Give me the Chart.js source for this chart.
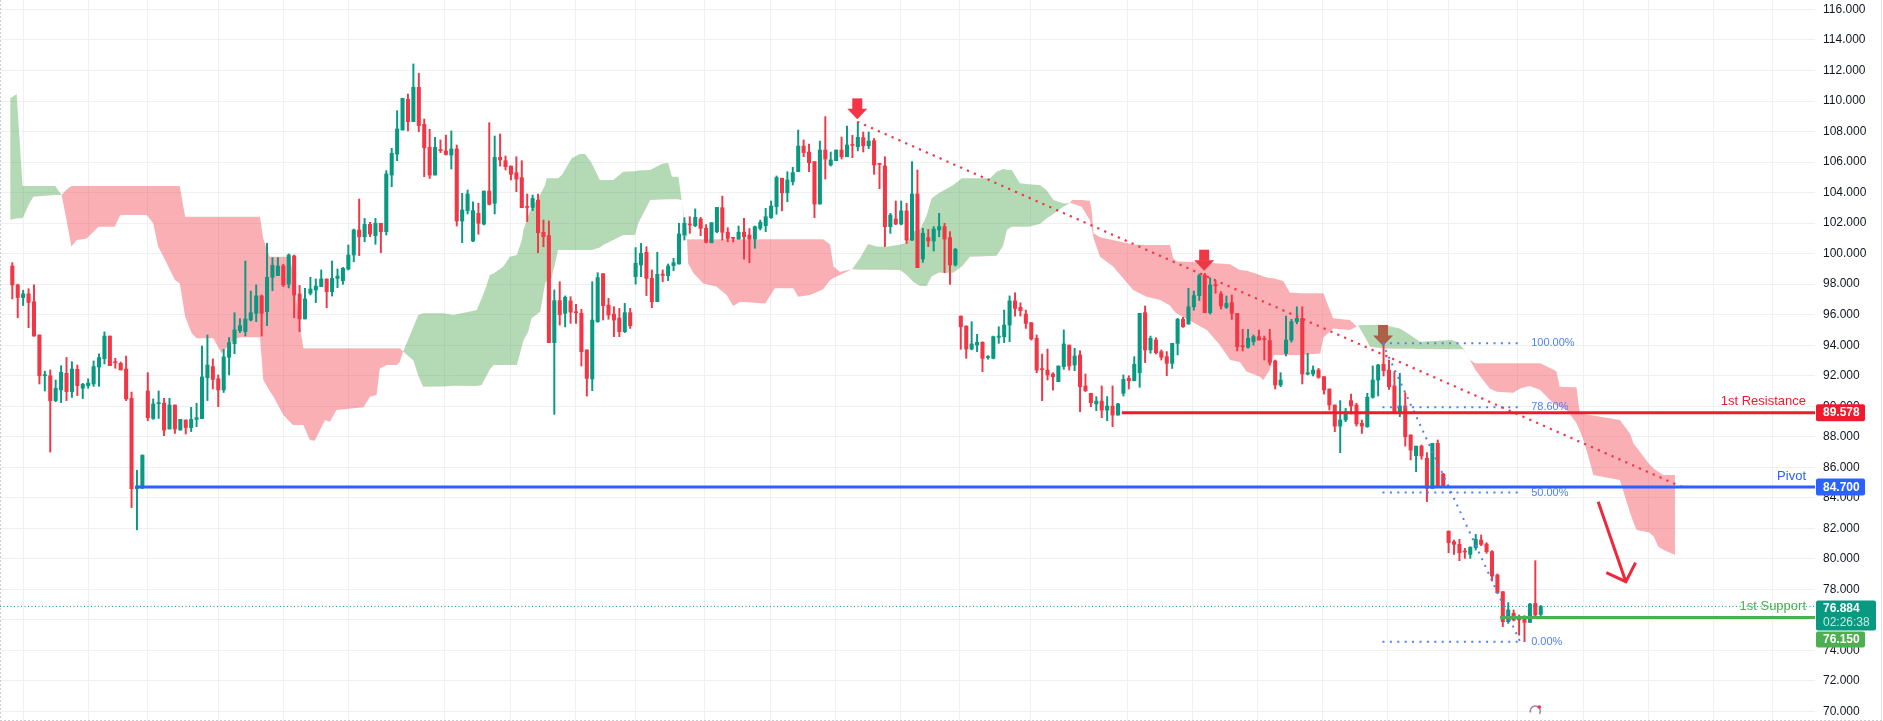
<!DOCTYPE html>
<html>
<head>
<meta charset="utf-8">
<script src="https://cdn.jsdelivr.net/npm/chart.js@4.4.1/dist/chart.umd.min.js"></script>
<style>
  html, body { margin: 0; padding: 0; background: #ffffff; }
  #wrap { width: 1883px; height: 721px; position: relative; }
</style>
</head>
<body>
<div id="wrap"><canvas id="priceChart" width="1883" height="721"></canvas></div>
<script>
// ---- candles (index 0..282) ----
const opens = [
  99.19, 97.95, 97.12, 97.36, 96.85, 94.67, 92.0, 92.0, 90.37, 91.07,
  92.16, 90.96, 92.42, 91.18, 91.35, 91.46, 92.57, 93.12, 94.6, 92.9,
  92.81, 92.44, 90.52, 84.6, 84.64, 91.0, 89.2, 90.17, 90.2, 88.51,
  90.08, 88.44, 89.1, 88.6, 89.14, 89.19, 91.87, 92.6, 91.8, 91.07,
  93.21, 94.1, 94.95, 94.89, 95.65, 96.09, 97.23, 96.2, 98.45, 98.56,
  99.19, 98.0, 99.85, 97.36, 95.72, 97.4, 97.62, 97.84, 98.34, 97.51,
  98.38, 98.23, 98.99, 99.91, 101.55, 101.11, 101.92, 101.18, 101.99, 101.44,
  105.15, 106.53, 108.1, 110.11, 108.65, 110.9, 108.47, 106.97, 105.15, 106.79,
  106.73, 106.46, 106.86, 102.14, 102.82, 100.83, 102.64, 101.94, 104.1, 103.3,
  106.31, 106.09, 105.74, 105.3, 104.98, 103.08, 103.03, 103.51, 101.4, 101.18,
  94.17, 96.92, 96.09, 96.9, 96.17, 96.09, 93.69, 91.79, 95.54, 98.69,
  96.63, 96.04, 95.78, 94.89, 96.13, 98.49, 99.26, 100.09, 98.38, 96.85,
  98.66, 98.56, 99.21, 99.32, 101.22, 101.92, 101.83, 102.27, 101.66, 100.72,
  101.44, 103.01, 101.4, 101.05, 100.96, 101.4, 101.22, 100.96, 101.66, 101.83,
  102.36, 103.08, 104.94, 103.99, 104.72, 105.37, 107.05, 106.66, 106.03, 103.25,
  106.79, 105.81, 106.09, 106.79, 106.35, 107.12, 107.01, 107.6, 107.07, 107.4,
  105.89, 105.74, 101.77, 102.27, 101.94, 102.8, 100.89, 103.91, 99.65, 101.05,
  100.83, 101.55, 101.77, 101.05, 99.26, 95.91, 95.26, 93.75, 94.01, 94.19,
  93.19, 93.14, 94.52, 94.56, 95.32, 96.9, 96.48, 96.04, 95.48, 94.45,
  92.42, 92.37, 92.11, 91.61, 92.6, 94.01, 92.7, 93.36, 91.33, 90.85,
  90.15, 90.34, 89.75, 90.01, 89.42, 90.85, 91.83, 91.67, 92.2, 96.13,
  93.69, 94.34, 93.58, 93.25, 92.81, 94.12, 95.7, 95.39, 96.52, 97.25,
  98.6, 96.13, 97.95, 97.36, 96.48, 96.79, 96.09, 93.95, 93.86, 94.23,
  94.56, 94.41, 94.3, 92.97, 91.39, 93.46, 94.34, 95.54, 95.76, 92.11,
  92.11, 92.37, 91.94, 91.13, 90.08, 88.7, 89.1, 90.37, 90.08, 88.88,
  88.66, 90.59, 91.72, 92.75, 92.37, 91.33, 89.64, 90.02, 88.12, 86.76,
  87.39, 86.59, 84.62, 87.57, 85.56, 81.82, 81.12, 80.95, 80.47, 80.29,
  80.73, 81.23, 80.97, 80.47, 78.94, 77.85, 75.88, 76.43, 76.03, 76.06,
  75.84, 77.08, 76.36
];
const highs = [
  99.41, 98.0, 97.6, 97.7, 97.95, 94.67, 92.3, 92.38, 91.72, 92.66,
  93.2, 92.92, 92.7, 91.5, 91.8, 92.97, 93.43, 94.87, 94.6, 93.14,
  92.9, 93.29, 90.93, 85.8, 86.8, 92.2, 90.48, 91.0, 90.52, 90.52,
  90.08, 89.14, 89.1, 89.93, 90.2, 93.95, 94.67, 93.1, 92.05, 93.73,
  94.5, 96.13, 95.74, 99.52, 97.55, 97.95, 97.29, 100.68, 99.74, 99.74,
  99.3, 99.98, 99.91, 97.92, 97.73, 98.45, 98.34, 98.93, 98.34, 99.52,
  99.0, 99.1, 100.57, 101.61, 103.58, 102.31, 102.05, 102.31, 101.99, 105.44,
  106.9, 109.37, 110.18, 110.46, 112.43, 111.82, 108.82, 108.15, 107.62, 107.45,
  107.77, 108.04, 107.12, 103.95, 104.17, 103.4, 103.3, 104.1, 108.58, 107.71,
  107.84, 106.4, 105.74, 106.35, 106.09, 103.91, 103.84, 103.9, 102.2, 102.14,
  97.62, 98.16, 97.23, 97.18, 96.68, 96.35, 93.69, 98.16, 98.75, 98.69,
  97.07, 96.52, 96.41, 96.74, 96.41, 100.4, 100.67, 100.45, 98.93, 100.09,
  98.93, 99.32, 99.69, 101.99, 102.36, 102.42, 102.93, 102.38, 101.9, 102.03,
  103.03, 103.77, 101.7, 101.05, 101.81, 102.31, 101.64, 101.81, 102.2, 102.97,
  103.45, 105.09, 104.94, 105.37, 105.66, 108.1, 107.45, 107.18, 106.03, 107.38,
  108.98, 106.66, 106.79, 107.64, 108.36, 107.75, 108.6, 107.97, 107.97, 107.55,
  105.89, 106.35, 102.64, 103.45, 103.45, 103.3, 106.03, 105.48, 101.66, 101.59,
  101.77, 102.64, 101.99, 101.44, 100.35, 95.91, 95.26, 95.54, 94.71, 94.23,
  93.32, 94.6, 95.21, 96.3, 97.23, 97.44, 96.78, 96.3, 95.48, 94.67,
  93.42, 93.75, 92.2, 92.64, 95.0, 94.01, 93.8, 93.64, 92.11, 90.85,
  90.63, 91.33, 90.63, 91.33, 90.19, 92.05, 92.0, 93.25, 96.09, 96.57,
  94.6, 94.49, 93.69, 93.58, 94.12, 95.76, 95.83, 97.73, 97.55, 98.67,
  98.71, 98.42, 98.23, 97.51, 97.22, 97.29, 96.09, 95.04, 95.04, 94.67,
  94.99, 94.6, 95.04, 93.03, 92.2, 95.91, 95.7, 96.52, 96.52, 93.47,
  92.64, 92.48, 91.94, 91.13, 90.08, 90.37, 89.86, 90.8, 90.19, 89.1,
  90.85, 92.64, 92.75, 94.12, 93.03, 92.27, 92.16, 90.89, 88.12, 87.39,
  87.46, 86.96, 87.57, 87.79, 85.6, 81.82, 81.23, 81.28, 80.69, 80.8,
  81.6, 81.56, 81.06, 80.54, 79.01, 77.85, 77.13, 76.65, 76.32, 76.28,
  77.08, 79.88, 76.95
];
const lows = [
  97.03, 95.8, 96.6, 95.15, 94.6, 91.46, 91.0, 87.0, 90.3, 90.24,
  90.37, 90.58, 90.7, 90.5, 91.18, 91.3, 91.3, 92.77, 92.66, 92.49,
  92.38, 90.37, 83.36, 81.9, 84.6, 89.06, 89.14, 89.2, 88.07, 88.5,
  88.22, 88.44, 88.18, 88.34, 88.66, 89.19, 90.37, 91.13, 89.97, 90.9,
  92.05, 93.44, 94.82, 94.6, 95.59, 95.54, 94.6, 95.28, 97.57, 98.56,
  97.84, 97.75, 95.8, 94.89, 95.72, 97.29, 96.79, 97.84, 96.46, 97.22,
  97.77, 97.99, 98.93, 99.47, 99.87, 100.78, 101.11, 100.61, 100.06, 101.22,
  104.39, 106.09, 108.1, 108.04, 108.65, 107.99, 105.04, 104.93, 105.15, 106.62,
  106.46, 105.55, 101.81, 100.72, 102.6, 100.78, 101.27, 101.88, 103.19, 102.6,
  105.74, 105.48, 104.83, 104.06, 103.01, 102.1, 102.82, 100.06, 100.45, 94.17,
  89.47, 95.32, 95.2, 95.43, 95.43, 92.64, 90.67, 91.02, 95.5, 95.65,
  95.7, 94.56, 94.56, 94.82, 95.1, 98.0, 98.49, 97.25, 96.46, 96.85,
  98.16, 98.23, 98.88, 99.32, 100.89, 101.33, 101.77, 101.18, 100.7, 100.7,
  101.37, 100.89, 100.78, 100.76, 100.94, 99.63, 99.41, 100.35, 101.55, 101.44,
  102.31, 102.58, 102.8, 103.4, 104.5, 105.37, 106.35, 105.37, 102.36, 103.25,
  104.89, 105.74, 106.09, 106.2, 106.35, 106.29, 106.73, 106.66, 106.88, 105.2,
  104.26, 100.46, 101.33, 101.9, 101.88, 100.67, 100.85, 99.08, 99.43, 100.46,
  100.17, 101.11, 98.75, 97.99, 99.19, 93.73, 93.14, 93.69, 93.58, 92.27,
  93.08, 93.1, 94.12, 94.17, 94.23, 95.91, 95.91, 95.1, 94.34, 92.2,
  90.36, 91.72, 91.06, 91.61, 92.42, 92.37, 92.33, 89.64, 90.96, 89.97,
  89.71, 89.25, 89.05, 88.66, 89.42, 90.67, 91.13, 91.67, 91.24, 92.86,
  93.47, 93.42, 93.03, 92.0, 92.48, 93.36, 95.17, 95.37, 96.3, 96.92,
  96.13, 96.04, 97.4, 96.37, 96.41, 95.69, 93.62, 93.62, 93.8, 94.01,
  94.34, 93.03, 92.7, 91.13, 91.28, 93.29, 94.2, 95.4, 91.46, 92.05,
  91.98, 91.83, 90.8, 89.75, 88.33, 86.96, 88.99, 89.49, 88.7, 88.22,
  88.62, 90.52, 90.67, 91.98, 91.11, 89.53, 89.32, 87.39, 86.48, 85.71,
  86.52, 83.75, 84.62, 84.73, 84.79, 80.4, 80.29, 79.88, 80.03, 80.03,
  80.58, 80.86, 80.36, 78.55, 77.74, 75.56, 75.77, 75.93, 75.0, 74.57,
  75.82, 76.21, 76.28
];
const closes = [
  97.95, 97.12, 97.36, 96.8, 94.6, 92.0, 92.05, 90.37, 91.18, 92.22,
  90.96, 92.44, 91.35, 91.44, 91.52, 92.6, 93.19, 94.6, 92.66, 92.85,
  92.38, 90.48, 84.6, 84.78, 86.8, 89.25, 90.15, 90.2, 88.44, 90.08,
  88.51, 89.14, 88.6, 89.14, 89.25, 91.92, 92.7, 91.76, 91.07, 93.23,
  94.17, 95.0, 95.28, 95.72, 96.13, 97.23, 96.09, 98.45, 99.23, 99.19,
  97.95, 99.91, 97.29, 95.72, 97.03, 97.68, 97.88, 98.34, 97.51, 98.38,
  98.53, 99.04, 99.91, 101.55, 101.11, 101.92, 101.29, 101.99, 101.44, 105.22,
  106.57, 108.17, 110.18, 108.65, 110.9, 108.39, 106.94, 105.15, 106.97, 106.75,
  106.5, 106.86, 102.14, 102.86, 103.91, 102.82, 101.99, 104.1, 103.23, 106.31,
  106.14, 105.7, 105.2, 104.89, 103.01, 103.03, 103.62, 101.37, 101.11, 94.17,
  96.92, 96.0, 97.14, 96.17, 96.13, 93.58, 91.83, 95.65, 98.43, 96.59,
  95.98, 95.65, 94.89, 96.13, 95.28, 99.37, 100.02, 98.38, 96.85, 98.64,
  98.58, 99.19, 99.41, 101.29, 101.99, 101.88, 102.38, 101.66, 100.75, 102.03,
  103.03, 101.4, 101.0, 101.0, 101.4, 101.11, 100.96, 101.77, 102.05, 102.42,
  103.12, 104.98, 103.99, 104.83, 105.31, 107.05, 106.62, 105.96, 103.25, 106.79,
  106.2, 106.14, 106.79, 106.35, 107.12, 107.09, 107.62, 107.07, 107.38, 105.81,
  105.85, 101.77, 102.53, 101.94, 102.8, 100.89, 103.91, 99.08, 101.33, 100.83,
  101.61, 101.77, 100.96, 99.26, 100.28, 95.21, 93.75, 94.08, 94.19, 93.14,
  93.25, 94.56, 94.6, 95.32, 96.9, 96.41, 96.26, 95.43, 94.41, 92.37,
  92.4, 92.05, 91.94, 92.64, 94.08, 92.64, 93.29, 91.28, 91.02, 90.23,
  90.34, 89.75, 90.01, 89.42, 90.15, 91.76, 91.67, 92.75, 96.09, 93.69,
  94.45, 93.51, 93.21, 92.81, 94.12, 95.7, 95.21, 96.52, 97.25, 98.56,
  96.13, 97.95, 97.9, 96.57, 96.74, 96.09, 93.9, 93.9, 94.45, 94.56,
  94.34, 94.37, 92.88, 91.39, 91.72, 94.34, 95.54, 95.76, 92.11, 92.2,
  92.37, 91.9, 91.07, 90.08, 88.7, 89.1, 89.64, 90.02, 88.84, 88.7,
  90.59, 91.72, 92.7, 92.33, 91.28, 89.64, 90.02, 88.0, 87.13, 87.39,
  86.74, 84.62, 87.57, 84.73, 84.79, 81.06, 80.95, 80.4, 80.45, 80.75,
  81.28, 80.95, 80.47, 78.88, 77.78, 75.88, 76.65, 75.99, 76.0, 75.84,
  77.04, 76.32, 76.88
];

// ---- ichimoku cloud (senkou span A / B), x in candle index ----
const cloudX = [
  -0.4, 0.8, 1.9, 3.0, 3.9, 7.9, 9.1, 10.0, 10.9, 11.9,
  13.7, 15.9, 18.9, 19.9, 24.8, 26.0, 26.9, 28.2, 30.0, 30.9,
  31.9, 33.1, 34.0, 37.1, 38.6, 40.8, 42.0, 45.7, 46.3, 47.5,
  48.2, 50.0, 51.2, 51.8, 52.8, 53.7, 54.9, 55.8, 57.7, 58.6,
  59.8, 64.8, 66.0, 67.2, 67.8, 69.1, 70.9, 71.5, 72.1, 74.0,
  74.9, 75.8, 79.5, 81.4, 85.7, 86.6, 87.4, 88.1, 88.8, 90.6,
  91.8, 93.1, 94.0, 94.3, 95.2, 95.8, 97.4, 98.3, 98.6, 99.5,
  100.7, 101.4, 103.2, 104.7, 105.7, 106.9, 108.4, 109.0, 110.9, 112.7,
  114.9, 115.5, 117.7, 119.8, 121.0, 121.7, 122.9, 123.5, 124.4, 124.7,
  125.7, 127.5, 129.9, 131.8, 133.0, 134.3, 138.9, 140.7, 144.1, 145.0,
  147.2, 149.6, 150.9, 151.5, 152.7, 154.9, 156.4, 157.9, 159.5, 161.3,
  163.8, 165.0, 166.2, 167.5, 168.7, 169.6, 170.9, 173.6, 175.2, 176.7,
  180.4, 181.6, 182.8, 183.5, 184.4, 185.9, 187.5, 189.6, 190.8, 192.1,
  193.9, 195.1, 195.5, 197.3, 198.8, 199.1, 199.5, 200.7, 203.1, 206.8,
  209.3, 211.8, 213.6, 214.2, 214.8, 220.4, 222.8, 224.7, 226.5, 227.7,
  230.2, 230.8, 232.0, 232.7, 234.5, 235.7, 237.6, 241.3, 241.9, 243.7,
  246.8, 248.0, 248.3, 249.9, 250.5, 253.0, 256.0, 257.9, 259.7, 265.6,
  266.5, 267.7, 269.0, 269.9, 271.1, 272.6, 273.9, 276.9, 278.2, 280.0,
  281.9, 284.3, 284.9, 285.5, 286.8, 288.6, 289.2, 289.9, 291.1, 291.7,
  296.6, 298.5, 299.1, 299.7, 301.9, 302.8, 303.7, 304.6, 306.8
];
const spanA = [
  110.18, 110.46, 104.43, 104.43, 104.43, 104.43, 103.84, 102.2, 100.46, 100.9,
  101.0, 101.77, 101.77, 102.53, 102.53, 101.99, 100.46, 99.58, 98.27, 98.05,
  95.87, 94.78, 94.45, 94.45, 93.47, 94.34, 94.52, 94.52, 91.72, 91.0,
  90.63, 89.43, 88.99, 88.77, 88.77, 88.77, 87.79, 87.74, 89.1, 88.99,
  89.75, 89.93, 90.63, 90.74, 92.48, 92.7, 92.7, 92.9, 93.58, 95.2,
  95.98, 96.09, 96.09, 95.98, 96.31, 97.07, 97.8, 98.6, 98.7, 99.15,
  99.8, 99.91, 100.9, 101.55, 102.5, 103.0, 103.84, 104.5, 104.94, 104.94,
  104.94, 105.15, 106.25, 106.53, 106.53, 105.92, 104.83, 104.83, 104.83, 105.37,
  105.4, 105.45, 105.48, 105.87, 105.96, 105.04, 105.04, 103.5, 101.5, 99.36,
  98.71, 98.05, 97.84, 97.29, 96.57, 96.85, 96.74, 97.73, 97.73, 97.18,
  97.29, 97.66, 98.27, 98.4, 98.6, 98.97, 99.69, 100.63, 100.46, 100.45,
  100.6, 100.72, 101.44, 101.6, 102.5, 103.62, 103.95, 104.5, 104.94, 104.94,
  104.94, 105.37, 105.55, 105.5, 105.48, 104.61, 104.55, 104.5, 104.17, 103.51,
  103.3, 103.3, 103.3, 103.08, 102.2, 101.77, 101.0, 99.8, 99.15, 97.62,
  97.18, 96.96, 96.6, 96.3, 96.09, 94.99, 94.01, 93.03, 92.9, 92.27,
  91.94, 91.72, 92.37, 93.36, 93.36, 93.36, 93.36, 93.46, 94.5, 95.1,
  95.0, 95.21, 95.3, 95.32, 95.32, 95.32, 95.1, 94.67, 94.23, 94.34,
  94.23, 93.79, 93.0, 92.4, 91.83, 91.17, 90.95, 90.89, 91.17, 91.33,
  91.07, 90.19, 90.05, 89.95, 89.75, 88.88, 88.4, 87.79, 86.3, 85.49,
  85.17, 82.98, 82.4, 81.89, 81.75, 81.5, 80.8, 80.6, 80.25
];
const spanB = [
  102.21, 102.32, 102.32, 103.19, 103.73, 103.84, 103.84, 104.2, 104.43, 104.43,
  104.43, 104.43, 104.43, 104.43, 104.43, 104.43, 104.43, 104.43, 104.43, 104.43,
  102.42, 102.42, 102.42, 102.42, 102.42, 102.42, 102.42, 102.42, 101.0, 99.8,
  99.8, 99.8, 99.8, 98.71, 96.0, 93.8, 93.8, 93.8, 93.8, 93.8,
  93.8, 93.8, 93.8, 93.8, 93.8, 93.8, 93.8, 93.8, 93.58, 93.0,
  92.0, 91.28, 91.3, 91.35, 91.33, 91.4, 91.94, 92.4, 92.7, 92.7,
  92.7, 92.7, 93.9, 94.3, 94.89, 95.76, 96.2, 98.05, 98.2, 98.38,
  100.24, 100.24, 100.24, 100.24, 100.24, 100.24, 100.4, 100.57, 100.9, 101.22,
  101.22, 101.99, 103.52, 103.54, 103.56, 103.56, 103.56, 103.5, 100.94, 100.94,
  100.94, 100.94, 100.94, 100.94, 100.94, 100.94, 100.94, 100.94, 100.94, 100.94,
  100.94, 100.94, 100.6, 99.15, 98.82, 98.97, 98.95, 98.95, 98.95, 98.95,
  98.93, 98.6, 98.16, 97.88, 97.88, 98.5, 98.75, 98.75, 99.15, 99.8,
  99.84, 99.86, 100.5, 101.55, 101.77, 101.77, 101.77, 101.95, 102.3, 102.6,
  103.08, 103.3, 103.51, 103.51, 103.47, 103.0, 101.33, 101.07, 100.9, 100.6,
  100.57, 100.57, 100.57, 99.69, 99.5, 99.4, 99.35, 99.3, 98.93, 98.9,
  98.6, 98.5, 98.4, 98.38, 98.2, 97.45, 97.4, 97.4, 97.4, 95.76,
  95.65, 95.25, 95.3, 94.3, 93.9, 93.79, 93.77, 93.76, 93.75, 93.74,
  93.73, 93.73, 93.03, 92.81, 92.81, 92.81, 92.81, 92.81, 92.81, 92.81,
  92.81, 92.4, 92.27, 91.28, 91.26, 91.24, 89.54, 89.5, 89.43, 89.4,
  89.1, 88.2, 87.57, 87.3, 86.26, 85.93, 85.7, 85.49, 85.49
];

// ---- axis ticks ----
const priceTicks = [70, 72, 74, 76, 78, 80, 82, 84, 86, 88, 90, 92, 94, 96, 98, 100,
  102, 104, 106, 108, 110, 112, 114, 116];
const timeGrid = [2, 14, 24.9, 38, 50, 62, 79.8, 92, 104, 114.9, 127.8, 139.8, 151.8,
  163.8, 174.8, 187.8, 205.8, 217.8, 229.8, 241.8, 253.8, 264.9, 277.8, 289.8, 301.8,
  313.8, 324.8];

// ---- drawings ----
const resistance = 89.578, resistanceFrom = 204.7;
const pivot = 84.7, pivotFrom = 22.8;
const support = 76.15, supportFrom = 274.5;
const lastPrice = 76.884;
const countdown = '02:26:38';
const levelNames = ['1st Resistance', 'Pivot', '1st Support'];
const trendLine = [{ x: 155.9, y: 108.65 }, { x: 308.6, y: 84.62 }];
const signalArrows = [{ x: 155.9, y: 108.8 }, { x: 219.9, y: 98.88 }, { x: 252.9, y: 93.95 }];
const fibStart = { x: 252.8, y: 94.12 };
const fibEnd = { x: 278.2, y: 74.57 };
const fibRatios = [1, 0.786, 0.5, 0];
const fibNames = ['100.00%', '78.60%', '50.00%', '0.00%'];
const forecastArrow = [{ x: 292.6, y: 83.74 }, { x: 297.7, y: 78.5 }];

// ---- look ----
const upColor = '#089981', downColor = '#f23645';
const cloudUp = 'rgba(67, 160, 71, 0.4)', cloudDown = 'rgba(242, 54, 69, 0.4)';
const resColor = '#f0192d', pivotColor = '#2962ff', supColor = '#4caf50', fibColor = '#4f80f8';
const gridColor = '#eff0f2';
const fontFamily = '"Liberation Sans", Arial, sans-serif';
const xMin = -2.27, xMax = 332.6, yMin = 69.374, yMax = 116.621;

const candleColors = closes.map((c, i) => c >= opens[i] ? upColor : downColor);

function flatLine(from, value, color, width, dash) {
    return {
        type: 'line',
        data: [{ x: from, y: value }, { x: xMax, y: value }],
        borderColor: color, borderWidth: width, borderDash: dash || [],
        pointRadius: 0, fill: false, order: 1
    };
}

const fibValue = r => fibEnd.y + r * (fibStart.y - fibEnd.y);

var datasets = [
    { // 0: span B (fill target)
        type: 'line', data: cloudX.map((x, i) => ({ x: x, y: spanB[i] })),
        borderWidth: 0, pointRadius: 0, fill: false, order: 6
    },
    { // 1: span A, coloured against span B
        type: 'line', data: cloudX.map((x, i) => ({ x: x, y: spanA[i] })),
        borderWidth: 0, pointRadius: 0,
        fill: { target: 0, above: cloudUp, below: cloudDown }, order: 5
    },
    { // wicks
        type: 'bar', data: opens.map((o, i) => ({ x: i, y: [lows[i], highs[i]] })),
        backgroundColor: candleColors, barThickness: 1.3, grouped: false, order: 4
    },
    { // bodies
        type: 'bar', data: opens.map((o, i) => ({ x: i, y: [o, closes[i]] })),
        backgroundColor: candleColors, barThickness: 3.4, minBarLength: 1, grouped: false, order: 3
    },
    flatLine(xMin, lastPrice, upColor, 1, [1, 2.5]),
    flatLine(resistanceFrom, resistance, resColor, 3),
    flatLine(pivotFrom, pivot, pivotColor, 3),
    flatLine(supportFrom, support, supColor, 3),
    {
        type: 'line', data: trendLine, borderColor: downColor, borderWidth: 2.2,
        borderDash: [2.2, 5.3], pointRadius: 0, fill: false, order: 1
    },
    {
        type: 'line', data: [fibStart, fibEnd], borderColor: fibColor, borderWidth: 2,
        borderDash: [2, 5.4], pointRadius: 0, fill: false, order: 1
    }
];
fibRatios.forEach(r => {
    datasets.push({
        type: 'line', data: [{ x: fibStart.x, y: fibValue(r) }, { x: fibEnd.x, y: fibValue(r) }],
        borderColor: fibColor, borderWidth: 2, borderDash: [2, 5.4],
        pointRadius: 0, fill: false, order: 1
    });
});

const overlay = {
    id: 'overlay',
    beforeDatasetsDraw(chart) {
        // signal arrows sit under the cloud
        const { ctx, chartArea: a, scales: { x, y } } = chart;
        ctx.save();
        ctx.beginPath(); ctx.rect(a.left, a.top, a.width, a.height); ctx.clip();
        ctx.fillStyle = downColor;
        signalArrows.forEach(m => {
            const px = x.getPixelForValue(m.x), py = y.getPixelForValue(m.y);
            ctx.fillRect(px - 5, py - 21, 10, 11);
            ctx.beginPath();
            ctx.moveTo(px - 10, py - 10.5); ctx.lineTo(px + 10, py - 10.5); ctx.lineTo(px, py);
            ctx.closePath(); ctx.fill();
        });
        ctx.restore();
    },
    afterDatasetsDraw(chart) {
        const { ctx, chartArea: a, scales: { x, y } } = chart;
        ctx.save();
        // level names
        ctx.font = '13px ' + fontFamily;
        ctx.textAlign = 'right'; ctx.textBaseline = 'middle';
        [[resistance, resColor], [pivot, pivotColor], [support, supColor]].forEach((l, i) => {
            ctx.fillStyle = l[1];
            ctx.fillText(levelNames[i], a.right - 9, y.getPixelForValue(l[0]) - 11);
        });
        // fib labels
        ctx.font = '11px ' + fontFamily;
        ctx.textAlign = 'left';
        ctx.fillStyle = fibColor;
        const fx = x.getPixelForValue(fibEnd.x) + 11;
        fibRatios.forEach((r, i) => ctx.fillText(fibNames[i], fx, y.getPixelForValue(fibValue(r))));
        // forecast arrow
        const p0 = { x: x.getPixelForValue(forecastArrow[0].x), y: y.getPixelForValue(forecastArrow[0].y) };
        const p1 = { x: x.getPixelForValue(forecastArrow[1].x), y: y.getPixelForValue(forecastArrow[1].y) };
        const back = Math.atan2(p0.y - p1.y, p0.x - p1.x), head = 21.5, spread = 46 * Math.PI / 180;
        ctx.strokeStyle = '#f0263a'; ctx.lineWidth = 3; ctx.lineJoin = 'miter';
        ctx.beginPath(); ctx.moveTo(p0.x, p0.y); ctx.lineTo(p1.x, p1.y); ctx.stroke();
        ctx.beginPath();
        ctx.moveTo(p1.x + head * Math.cos(back - spread), p1.y + head * Math.sin(back - spread));
        ctx.lineTo(p1.x, p1.y);
        ctx.lineTo(p1.x + head * Math.cos(back + spread), p1.y + head * Math.sin(back + spread));
        ctx.stroke();
        // small marker near the bottom under the last candles
        const ix = x.getPixelForValue(opens.length - 2);
        ctx.strokeStyle = '#9c7fb8'; ctx.lineWidth = 1.5;
        ctx.beginPath(); ctx.arc(ix, a.bottom - 10, 5, Math.PI * 0.9, Math.PI * 2.2); ctx.stroke();
        ctx.fillStyle = downColor;
        ctx.beginPath(); ctx.arc(ix + 4, a.bottom - 14, 1.8, 0, Math.PI * 2); ctx.fill();
        ctx.restore();
    },
    afterDraw(chart) {
        const { ctx, chartArea: a, scales: { y } } = chart;
        const bx = a.right + 1;
        ctx.save();
        function box(top, h, w, bg) {
            ctx.fillStyle = bg;
            ctx.beginPath(); ctx.roundRect(bx, top, w, h, 2); ctx.fill();
        }
        function label(text, cy, color) {
            ctx.fillStyle = color || '#ffffff';
            ctx.fillText(text, bx + 7, cy);
        }
        ctx.font = 'bold 12px ' + fontFamily;
        ctx.textAlign = 'left'; ctx.textBaseline = 'middle';
        [[resistance, resColor], [pivot, pivotColor]].forEach(t => {
            const cy = y.getPixelForValue(t[0]);
            box(cy - 8.5, 17, 49, t[1]);
            label(t[0].toFixed(3), cy + 0.5);
        });
        const ly = y.getPixelForValue(lastPrice);
        box(ly - 6, 30, 60, upColor);
        label(lastPrice.toFixed(3), ly + 2);
        ctx.font = '12px ' + fontFamily;
        label(countdown, ly + 16.5, 'rgba(255,255,255,0.78)');
        ctx.font = 'bold 12px ' + fontFamily;
        box(ly + 25, 16, 49, supColor);
        label(support.toFixed(3), ly + 33.5);
        // pane borders
        ctx.strokeStyle = '#e0e3eb'; ctx.lineWidth = 1;
        ctx.beginPath(); ctx.moveTo(1881.5, 0); ctx.lineTo(1881.5, chart.height); ctx.stroke();
        ctx.strokeStyle = '#c9ccd3'; ctx.setLineDash([2, 2]);
        ctx.beginPath(); ctx.moveTo(0.5, 0); ctx.lineTo(0.5, chart.height); ctx.stroke();
        ctx.beginPath(); ctx.moveTo(0, chart.height - 0.5); ctx.lineTo(chart.width, chart.height - 0.5); ctx.stroke();
        ctx.restore();
    }
};

const ctx = document.getElementById('priceChart').getContext('2d');
const chart = new Chart(ctx, {
    type: 'bar',
    data: { datasets: datasets },
    options: {
        responsive: false,
        animation: false,
        devicePixelRatio: 1,
        layout: { padding: 0 },
        plugins: { legend: { display: false }, tooltip: { enabled: false } },
        scales: {
            x: {
                type: 'linear', min: xMin, max: xMax, offset: false,
                grid: { color: gridColor, drawTicks: false, offset: false },
                border: { display: false },
                ticks: { display: false },
                afterBuildTicks: axis => { axis.ticks = timeGrid.map(v => ({ value: v })); },
                afterFit: axis => { axis.height = 0; axis.paddingLeft = 0; axis.paddingRight = 0; }
            },
            y: {
                type: 'linear', position: 'right', min: yMin, max: yMax,
                grid: { color: gridColor, drawTicks: false },
                border: { display: false },
                ticks: {
                    color: '#131722', padding: 8, autoSkip: false,
                    font: { family: fontFamily, size: 12 },
                    callback: v => v.toFixed(3)
                },
                afterBuildTicks: axis => { axis.ticks = priceTicks.map(v => ({ value: v })); },
                afterFit: axis => { axis.width = 68; axis.paddingTop = 0; axis.paddingBottom = 0; }
            }
        }
    },
    plugins: [overlay]
});
</script>
</body>
</html>
